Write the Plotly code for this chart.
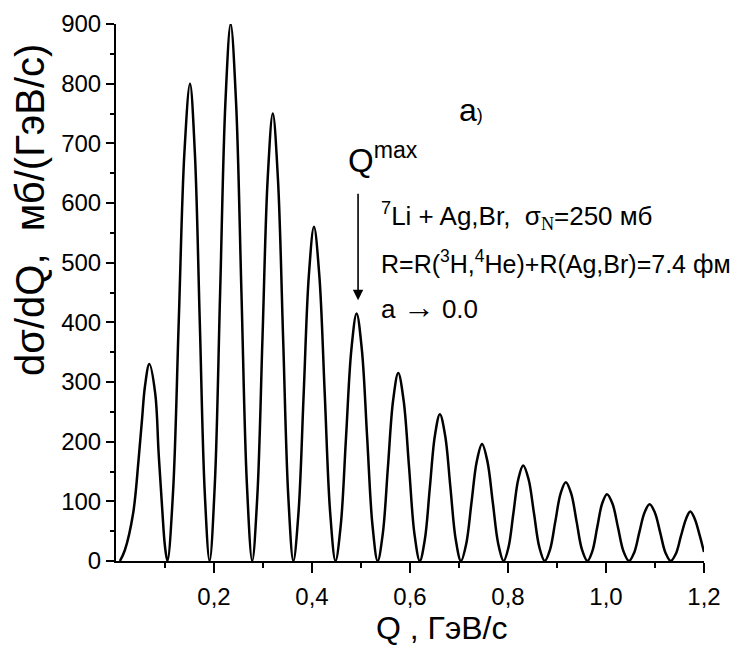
import plotly.graph_objects as go

# Q values (GeV/c) and dσ/dQ (mb/(GeV/c))
q_values = [
    0.008, 0.018, 0.035, 0.046, 0.053, 0.059, 0.068, 0.080, 0.087, 0.094, 0.100,
    0.105, 0.1165, 0.128, 0.1395, 0.151, 0.161, 0.171, 0.181,
    0.191, 0.2018, 0.2125, 0.2233, 0.234, 0.245, 0.256, 0.267,
    0.278, 0.2885, 0.299, 0.3095, 0.320, 0.3305, 0.341, 0.3515,
    0.362, 0.3725, 0.383, 0.3935, 0.404, 0.415, 0.426, 0.437,
    0.448, 0.4588, 0.4695, 0.4803, 0.491, 0.5018, 0.5125, 0.5233,
    0.534, 0.5445, 0.555, 0.5655, 0.576, 0.587, 0.598, 0.609,
    0.620, 0.6303, 0.6405, 0.6508, 0.661, 0.6718, 0.6825, 0.6933,
    0.704, 0.7148, 0.7255, 0.7363, 0.747, 0.758, 0.769, 0.780,
    0.791, 0.801, 0.811, 0.821, 0.831, 0.842, 0.853, 0.864,
    0.875, 0.8858, 0.8965, 0.9073, 0.918, 0.929, 0.940, 0.951,
    0.962, 0.972, 0.982, 0.992, 1.002, 1.0133, 1.0245, 1.0358,
    1.047, 1.0575, 1.068, 1.0785, 1.089, 1.0998, 1.1105, 1.1213,
    1.132, 1.1425, 1.153, 1.1635, 1.172, 1.181, 1.1915, 1.200,
]
dsigma_values = [
    0, 18, 80, 169, 236, 292, 330, 281, 181, 91, 24,
    0, 117, 400, 683, 800, 683, 400, 117,
    0, 131, 450, 769, 900, 769, 450, 131,
    0, 110, 375, 640, 750, 640, 375, 110,
    0, 82, 280, 478, 560, 478, 280, 82,
    0, 61, 208, 354, 415, 354, 208, 61,
    0, 46, 158, 269, 315, 269, 158, 46,
    0, 36, 123, 210, 246, 210, 123, 36,
    0, 29, 98, 167, 196, 167, 98, 29,
    0, 23, 80, 137, 160, 137, 80, 23,
    0, 19, 66, 113, 132, 113, 66, 19,
    0, 16, 56, 96, 112, 96, 56, 16,
    0, 14, 48, 81, 95, 81, 48, 14,
    0, 12, 42, 71, 83, 71, 42, 15,
]

x_tick_vals = [0.2, 0.4, 0.6, 0.8, 1.0, 1.2]
x_tick_text = ["0,2", "0,4", "0,6", "0,8", "1,0", "1,2"]
x_minor_vals = [0.1, 0.3, 0.5, 0.7, 0.9, 1.1]
y_tick_vals = [0, 100, 200, 300, 400, 500, 600, 700, 800, 900]
y_tick_text = [str(v) for v in y_tick_vals]

# arrow target: the Q^max peak
qmax_q = 0.494
qmax_val = 437

FONT = "Liberation Sans, Arial, sans-serif"

# the page body adds an 8px margin, so the figure is drawn 8px smaller
OFF = 8
PL, PT, PW, PH = 116 - OFF, 24 - OFF, 588, 537
W, H = 745 - OFF, 656 - OFF

fig = go.Figure()
fig.add_trace(go.Scatter(
    x=q_values, y=dsigma_values, mode="lines",
    line=dict(color="black", width=2.5, shape="spline", smoothing=1.0),
    showlegend=False, hoverinfo="skip",
))

fig.update_layout(
    width=W, height=H,
    margin=dict(l=PL, r=W - PL - PW, t=PT, b=H - PT - PH, autoexpand=False),
    paper_bgcolor="white", plot_bgcolor="white",
    font=dict(family=FONT, color="black", size=24),
    xaxis=dict(
        range=[0, 1.2], showgrid=False, zeroline=False,
        showline=True, linecolor="black", linewidth=2,
        tickmode="array", tickvals=x_tick_vals, ticktext=x_tick_text,
        ticks="outside", ticklen=10, tickwidth=2, tickcolor="black",
        tickfont=dict(size=24, family=FONT), ticklabelstandoff=3,
        minor=dict(tickmode="array", tickvals=x_minor_vals, ticks="outside",
                   ticklen=5, tickwidth=2, tickcolor="black", showgrid=False),
    ),
    yaxis=dict(
        range=[0, 900], showgrid=False, zeroline=False,
        showline=True, linecolor="black", linewidth=2,
        tickmode="array", tickvals=y_tick_vals, ticktext=y_tick_text,
        ticks="outside", ticklen=8, tickwidth=2, tickcolor="black",
        tickfont=dict(size=24, family=FONT),
        minor=dict(dtick=50, tick0=0, ticks="outside",
                   ticklen=4, tickwidth=2, tickcolor="black", showgrid=False),
    ),
)

def px2paper_x(px):
    return (px - 116) / float(PW)

def px2paper_y(py):
    return (561 - py) / float(PH)

annotations = [
    # y axis title
    dict(text="dσ/dQ,  мб/(ГэВ/с)", textangle=-90, xref="paper", yref="paper",
         x=px2paper_x(30), y=px2paper_y(210), xanchor="center", yanchor="middle",
         showarrow=False, font=dict(size=40, family=FONT)),
    # x axis title
    dict(text="Q , ГэВ/с", xref="paper", yref="paper",
         x=px2paper_x(441), y=px2paper_y(628), xanchor="center", yanchor="middle",
         showarrow=False, font=dict(size=32, family=FONT)),
    # panel label
    dict(text="a<span style='font-size:18px'>)</span>", xref="paper", yref="paper",
         x=px2paper_x(471), y=px2paper_y(110), xanchor="center", yanchor="middle",
         showarrow=False, font=dict(size=32, family=FONT)),
    # Q^max
    dict(text="Q<sup>max</sup>", xref="paper", yref="paper",
         x=px2paper_x(346), y=px2paper_y(158), xanchor="left", yanchor="middle",
         showarrow=False, font=dict(size=33, family=FONT)),
    # arrow
    dict(text="", x=qmax_q, y=qmax_val, xref="x", yref="y",
         showarrow=True, ax=0, ay=-108, arrowhead=2, arrowsize=1.3,
         arrowwidth=1.6, arrowcolor="black"),
    dict(text="<sup>7</sup>Li + Ag,Br,  σ<sub><span style='font-family:Liberation Serif'>N</span></sub>=250 мб",
         xref="paper", yref="paper", x=px2paper_x(379), y=px2paper_y(216),
         xanchor="left", yanchor="middle", showarrow=False,
         font=dict(size=26, family=FONT)),
    dict(text="R=R(<sup>3</sup>H,<sup>4</sup>He)+R(Ag,Br)=7.4 фм",
         xref="paper", yref="paper", x=px2paper_x(379), y=px2paper_y(262),
         xanchor="left", yanchor="middle", showarrow=False,
         font=dict(size=25, family=FONT)),
    dict(text="a <span style='font-size:32px'>→</span> 0.0",
         xref="paper", yref="paper", x=px2paper_x(379), y=px2paper_y(307),
         xanchor="left", yanchor="middle", showarrow=False,
         font=dict(size=26, family=FONT)),
]
fig.update_layout(annotations=annotations)

fig.write_html("out.html")
